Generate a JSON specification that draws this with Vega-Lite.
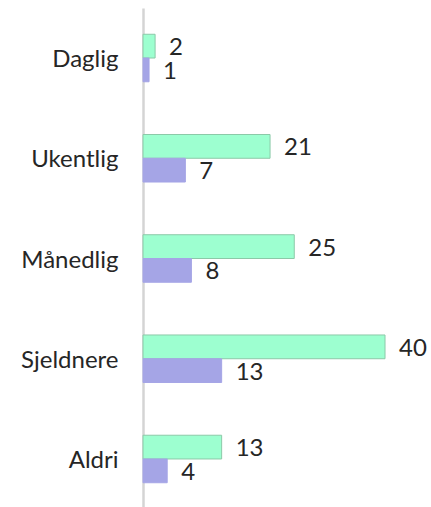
{
  "$schema": "https://vega.github.io/schema/vega-lite/v6.json",
  "autosize": {"type": "none"},
  "padding": {"left": 143, "top": 8, "right": 0, "bottom": 0},
  "width": 288,
  "height": 501,
  "background": "white",
  "config": {"view": {"stroke": null}, "font": "Lato"},
  "data": {
    "values": [
      {"kategori": "Daglig", "serie": "Serie 1", "verdi": 2},
      {"kategori": "Daglig", "serie": "Serie 2", "verdi": 1},
      {"kategori": "Ukentlig", "serie": "Serie 1", "verdi": 21},
      {"kategori": "Ukentlig", "serie": "Serie 2", "verdi": 7},
      {"kategori": "Månedlig", "serie": "Serie 1", "verdi": 25},
      {"kategori": "Månedlig", "serie": "Serie 2", "verdi": 8},
      {"kategori": "Sjeldnere", "serie": "Serie 1", "verdi": 40},
      {"kategori": "Sjeldnere", "serie": "Serie 2", "verdi": 13},
      {"kategori": "Aldri", "serie": "Serie 1", "verdi": 13},
      {"kategori": "Aldri", "serie": "Serie 2", "verdi": 4}
    ]
  },
  "encoding": {
    "y": {
      "field": "kategori",
      "type": "nominal",
      "sort": ["Daglig", "Ukentlig", "Månedlig", "Sjeldnere", "Aldri"],
      "scale": {"paddingInner": 0.526, "paddingOuter": 0.262},
      "axis": {
        "title": null,
        "ticks": false,
        "labelPadding": 25,
        "labelOffset": 2,
        "labelFontSize": 24,
        "labelFont": "Lato",
        "labelColor": "#262626",
        "domainColor": "#D4D4D4",
        "domainWidth": 2.5,
        "zindex": 0
      }
    },
    "yOffset": {"field": "serie", "type": "nominal", "sort": ["Serie 1", "Serie 2"]},
    "x": {
      "field": "verdi",
      "type": "quantitative",
      "scale": {"domain": [0, 47.6]},
      "axis": null
    }
  },
  "layer": [
    {
      "mark": {"type": "bar", "strokeWidth": 1},
      "encoding": {
        "color": {
          "field": "serie",
          "type": "nominal",
          "scale": {"domain": ["Serie 1", "Serie 2"], "range": ["#9DFFD0", "#A5A5E6"]},
          "legend": null
        },
        "stroke": {
          "field": "serie",
          "type": "nominal",
          "scale": {"domain": ["Serie 1", "Serie 2"], "range": ["#8CC9A8", "#A5A5E6"]},
          "legend": null
        }
      }
    },
    {
      "mark": {"type": "text", "align": "left", "baseline": "middle", "dx": 14, "dy": 2, "fontSize": 24, "font": "Lato", "color": "#262626"},
      "encoding": {"text": {"field": "verdi", "type": "quantitative"}}
    }
  ]
}
